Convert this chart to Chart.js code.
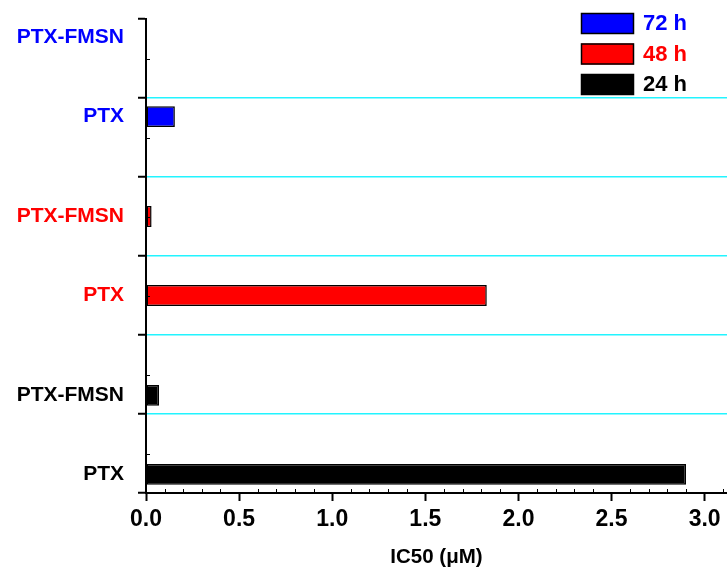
<!DOCTYPE html>
<html>
<head>
<meta charset="utf-8">
<script src="https://cdn.jsdelivr.net/npm/chart.js@4.4.0/dist/chart.umd.min.js"></script>
<style>
    body { margin: 0; background: #ffffff; }
    #wrap { width: 727px; height: 571px; }
</style>
</head>
<body>
<div id="wrap"><canvas id="ic50Chart"></canvas></div>
<script>
// samples, top to bottom
const samples = ["PTX-FMSN", "PTX", "PTX-FMSN", "PTX", "PTX-FMSN", "PTX"];
const seriesNames = ["72 h", "48 h", "24 h"];

// IC50 in uM, one array per incubation time
const ic50At72h = [0, 0.155, null, null, null, null];
const ic50At48h = [null, null, 0.03, 1.83, null, null];
const ic50At24h = [null, null, null, null, 0.07, 2.90];

const xTicks = [0, 0.5, 1.0, 1.5, 2.0, 2.5, 3.0];

const seriesColors = ["#0000ff", "#ff0000", "#000000"];
const FONT = "'Liberation Sans', Arial, sans-serif";

const extrasPlugin = {
    id: "extras",
    afterDraw(chart) {
        const ctx = chart.ctx;
        const xScale = chart.scales.x;
        const yScale = chart.scales.y;
        const area = chart.chartArea;

        ctx.save();

        // minor ticks, pointing inside
        ctx.strokeStyle = "#000";
        ctx.lineWidth = 1;
        for (let i = 1; i <= 31; i++) {
            if (i % 5 === 0) continue;
            const px = Math.round(xScale.getPixelForValue(i / 10)) + 0.5;
            ctx.beginPath();
            ctx.moveTo(px, area.bottom);
            ctx.lineTo(px, area.bottom - 4);
            ctx.stroke();
        }
        samples.forEach((s, i) => {
            const py = Math.round(yScale.getPixelForValue(i)) + 0.5;
            ctx.beginPath();
            ctx.moveTo(area.left, py);
            ctx.lineTo(area.left + 4, py);
            ctx.stroke();
        });

        // category labels, lined up with their bar
        ctx.font = "bold 21px " + FONT;
        ctx.textAlign = "right";
        ctx.textBaseline = "middle";
        samples.forEach((name, i) => {
            chart.data.datasets.forEach((ds, d) => {
                if (ds.data[i] === null) return;
                const bar = chart.getDatasetMeta(d).data[i];
                ctx.fillStyle = ds.backgroundColor;
                ctx.fillText(name, area.left - 22, bar.y);
            });
        });

        // legend
        const boxLeft = area.right - 146;
        chart.data.datasets.forEach((ds, d) => {
            const top = 13 + d * 30.5;
            ctx.fillStyle = ds.backgroundColor;
            ctx.fillRect(boxLeft, top, 53, 21);
            ctx.strokeStyle = "#000";
            ctx.lineWidth = 1.5;
            ctx.strokeRect(boxLeft + 0.5, top + 0.5, 52, 20);
            ctx.font = "bold 22px " + FONT;
            ctx.textAlign = "left";
            ctx.fillText(ds.label, boxLeft + 62, top + 11);
        });

        ctx.restore();
    }
};

const ctx = document.getElementById("ic50Chart");

new Chart(ctx, {
    type: "bar",
    data: {
        labels: samples,
        datasets: [ic50At72h, ic50At48h, ic50At24h].map((values, d) => ({
            label: seriesNames[d],
            data: values,
            backgroundColor: seriesColors[d],
            borderColor: "#000000",
            borderWidth: 1.5,
            borderSkipped: false,
            categoryPercentage: 0.79,
            barPercentage: 1.0
        }))
    },
    options: {
        indexAxis: "y",
        responsive: true,
        maintainAspectRatio: false,
        animation: false,
        layout: {
            padding: { top: 19, right: 0, left: 0, bottom: 0 }
        },
        plugins: {
            legend: { display: false },
            tooltip: { enabled: false }
        },
        scales: {
            x: {
                min: 0,
                max: 3.12,
                afterBuildTicks: function(scale) {
                    scale.ticks = xTicks.map(v => ({ value: v }));
                },
                afterFit: function(scale) {
                    scale.height = 78;
                },
                border: { color: "#000", width: 2 },
                grid: {
                    drawOnChartArea: false,
                    tickLength: 8,
                    tickColor: "#000",
                    tickWidth: 2
                },
                ticks: {
                    color: "#000",
                    padding: 5,
                    maxRotation: 0,
                    font: { family: FONT, size: 23, weight: "bold" },
                    callback: function(value) {
                        return Number(value).toFixed(1);
                    }
                },
                title: {
                    display: true,
                    text: "IC50 (\u03bcM)",
                    color: "#000",
                    padding: { top: 0, bottom: 1 },
                    font: { family: FONT, size: 20.5, weight: "bold" }
                }
            },
            y: {
                afterFit: function(scale) {
                    scale.width = 146;
                },
                border: { color: "#000", width: 2 },
                grid: {
                    offset: true,
                    color: function(context) {
                        if (context.index === undefined || context.index === 0) {
                            return "rgba(0,0,0,0)";
                        }
                        return "#22f4ff";
                    },
                    lineWidth: 1.5,
                    tickLength: 8,
                    tickColor: "#000",
                    tickWidth: 2
                },
                ticks: { display: false }
            }
        }
    },
    plugins: [extrasPlugin]
});
</script>
</body>
</html>
